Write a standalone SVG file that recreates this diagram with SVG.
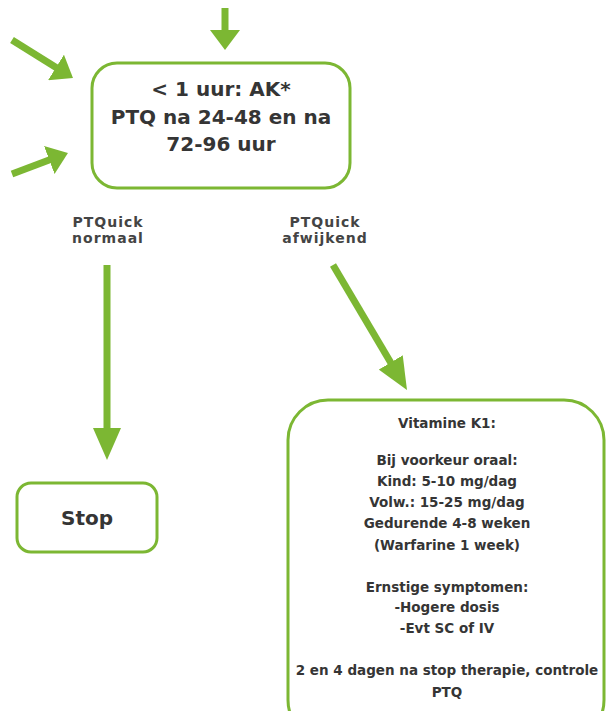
<svg xmlns="http://www.w3.org/2000/svg" width="608" height="711" viewBox="0 0 608 711">
<style>
.box{fill:#fff;stroke:#7cb733;stroke-width:3}
.arr{stroke:#7cb733;stroke-width:7;fill:none}
.t{font-family:"DejaVu Sans","Liberation Sans",sans-serif;font-weight:bold;fill:#353535;text-anchor:middle}
.big{font-size:20px}
.lab{font-size:14px;letter-spacing:1px;fill:#444}
.small{font-size:13.5px}
</style>
<defs>
<marker id="hs" markerUnits="userSpaceOnUse" viewBox="0 0 20 30" markerWidth="20" markerHeight="30" refX="2" refY="15" orient="auto"><path d="M0,0 L20,15 L0,30 z" fill="#7cb733"/></marker>
<marker id="hl" markerUnits="userSpaceOnUse" viewBox="0 0 32 28" markerWidth="32" markerHeight="28" refX="2" refY="14" orient="auto"><path d="M0,0 L32,14 L0,28 z" fill="#7cb733"/></marker>
</defs>
<rect width="608" height="711" fill="#fff"/>
<g id="connectors">
<line class="arr" x1="225" y1="8" x2="225" y2="32" marker-end="url(#hs)"/>
<line class="arr" x1="12" y1="40" x2="57.7" y2="68.5" marker-end="url(#hs)"/>
<line class="arr" x1="12" y1="174" x2="51.1" y2="159.3" marker-end="url(#hs)"/>
<line class="arr" x1="107" y1="265" x2="107" y2="430" marker-end="url(#hl)"/>
<line class="arr" x1="333" y1="265" x2="391.7" y2="364.2" marker-end="url(#hl)"/>
</g>
<g id="node-ak">
<rect class="box" x="92" y="63" width="258" height="125" rx="25"/>
<text class="t big" x="221" y="96">&lt; 1 uur: AK*</text>
<text class="t big" x="221" y="124">PTQ na 24-48 en na</text>
<text class="t big" x="221" y="151">72-96 uur</text>
</g>
<g id="label-normaal">
<text class="t lab" x="108" y="227">PTQuick</text>
<text class="t lab" x="108" y="243">normaal</text>
</g>
<g id="label-afwijkend">
<text class="t lab" x="325" y="227">PTQuick</text>
<text class="t lab" x="325" y="243">afwijkend</text>
</g>
<g id="node-stop">
<rect class="box" x="17" y="483" width="140" height="69" rx="14"/>
<text class="t big" x="87" y="525">Stop</text>
</g>
<g id="node-vitk">
<rect class="box" x="288" y="400" width="316" height="340" rx="40"/>
<text class="t small" x="447" y="428">Vitamine K1:</text>
<text class="t small" x="447" y="465">Bij voorkeur oraal:</text>
<text class="t small" x="447" y="486">Kind: 5-10 mg/dag</text>
<text class="t small" x="447" y="507">Volw.: 15-25 mg/dag</text>
<text class="t small" x="447" y="528">Gedurende 4-8 weken</text>
<text class="t small" x="447" y="550">(Warfarine 1 week)</text>
<text class="t small" x="447" y="592">Ernstige symptomen:</text>
<text class="t small" x="447" y="612">-Hogere dosis</text>
<text class="t small" x="447" y="633">-Evt SC of IV</text>
<text class="t small" x="447" y="675">2 en 4 dagen na stop therapie, controle</text>
<text class="t small" x="447" y="697">PTQ</text>
</g>
</svg>
